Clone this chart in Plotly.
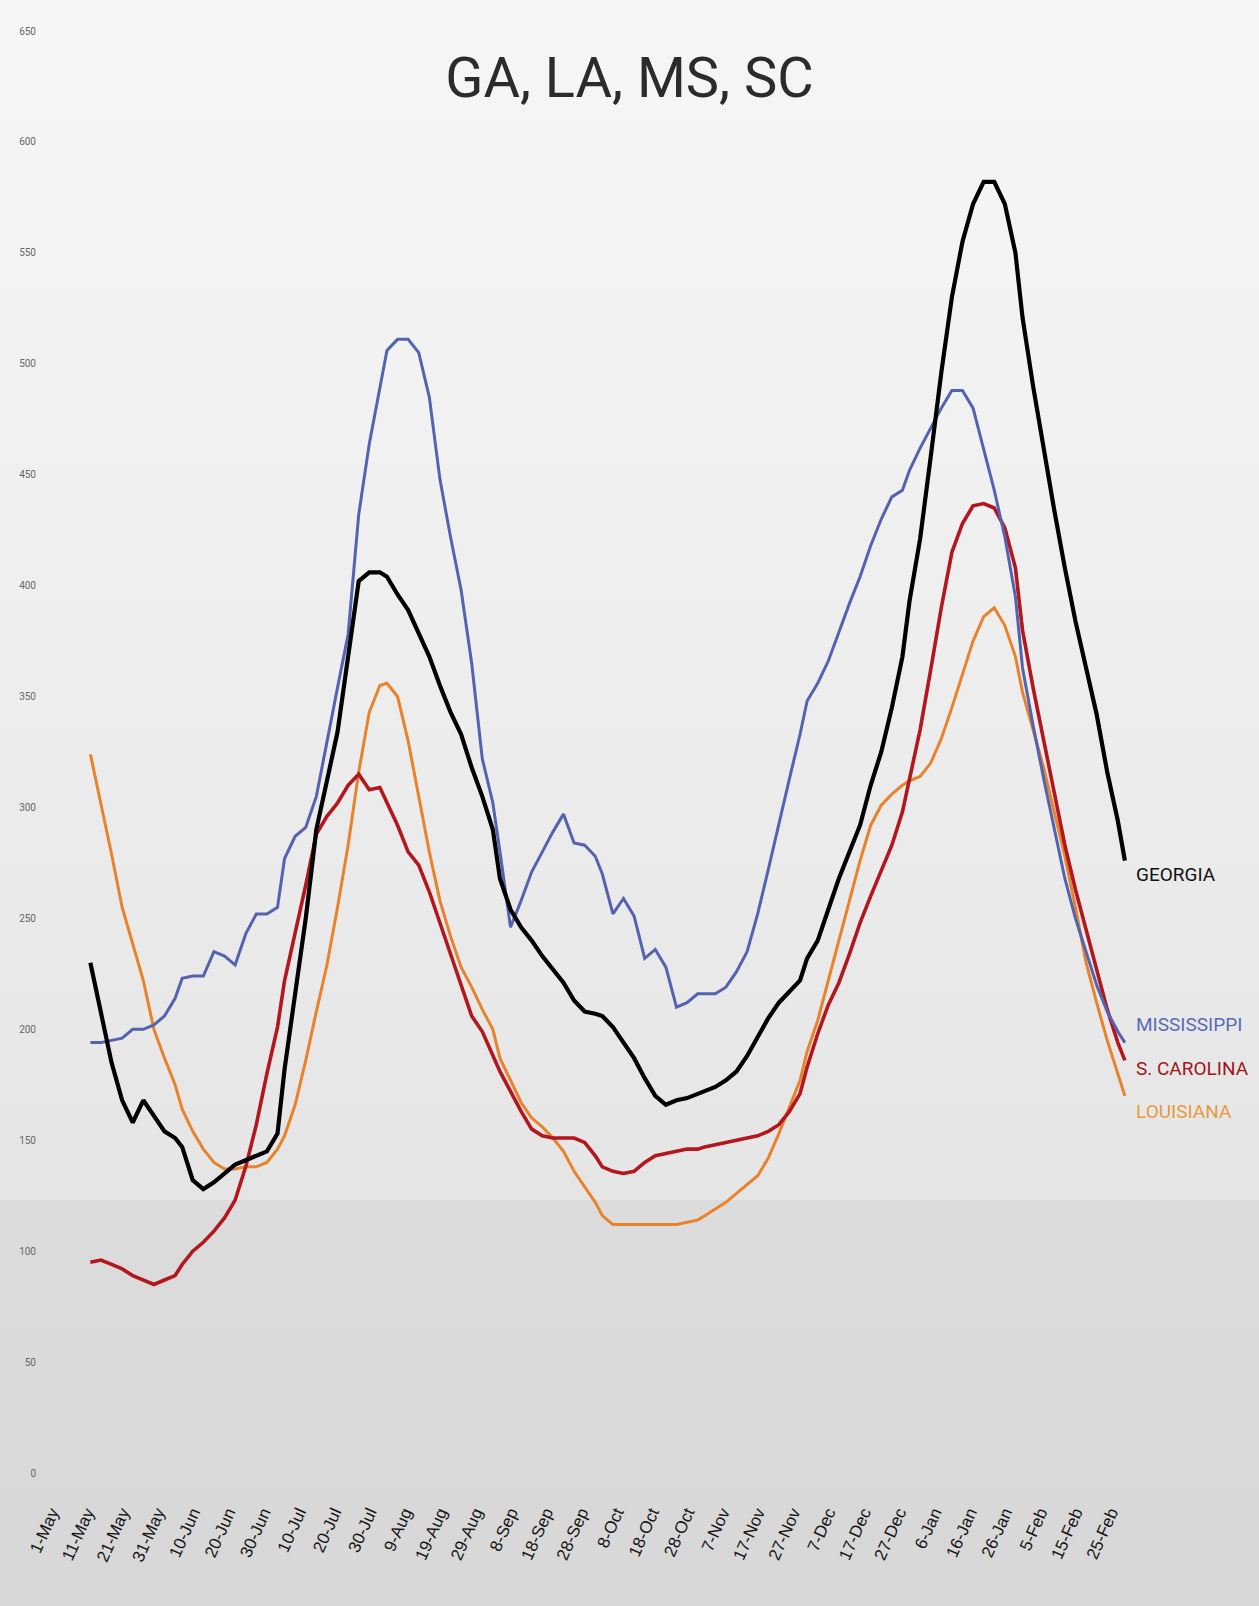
import pandas as pd
import plotly.graph_objects as go

# ---------------- data ----------------
BASE_DATE = "2020-05-01"
# day offsets from BASE_DATE for the sampled points
DAYS = [11, 14, 17, 20, 23, 26, 29, 32, 35, 37,
        40, 43, 46, 49, 52, 55, 58, 61, 64, 66,
        69, 72, 75, 78, 81, 84, 87, 90, 93, 95,
        98, 101, 104, 107, 110, 113, 116, 119, 122, 125,
        127, 130, 133, 136, 139, 142, 145, 148, 151, 154,
        156, 159, 162, 165, 168, 171, 174, 177, 180, 183,
        185, 188, 191, 194, 197, 200, 203, 206, 209, 212,
        214, 217, 220, 223, 226, 229, 232, 235, 238, 241,
        243, 246, 249, 252, 255, 258, 261, 264, 267, 270,
        273, 275, 278, 281, 284, 287, 290, 293, 296, 299,
        302, 304]

GEORGIA = [230, 207, 185, 168, 158, 168, 161, 154, 151, 147,
           132, 128, 131, 135, 139, 141, 143, 145, 153, 182,
           216, 250, 290, 312, 334, 368, 402, 406, 406, 404,
           396, 389, 379, 368, 355, 343, 333, 318, 305, 290,
           268, 254, 246, 240, 233, 227, 221, 213, 208, 207,
           206, 201, 194, 187, 178, 170, 166, 168, 169, 171,
           172, 174, 177, 181, 188, 197, 205, 212, 217, 222,
           232, 240, 254, 268, 280, 292, 310, 325, 345, 368,
           393, 421, 458, 496, 530, 555, 572, 582, 582, 572,
           550, 521, 490, 461, 434, 408, 384, 363, 342, 316,
           294, 276]

MISSISSIPPI = [194, 194, 195, 196, 200, 200, 202, 206, 214, 223,
               224, 224, 235, 233, 229, 243, 252, 252, 255, 277,
               287, 291, 305, 330, 354, 378, 432, 464, 490, 506,
               511, 511, 505, 485, 448, 422, 398, 365, 322, 302,
               280, 246, 258, 271, 280, 289, 297, 284, 283, 278,
               270, 252, 259, 251, 232, 236, 228, 210, 212, 216,
               216, 216, 219, 226, 235, 252, 272, 293, 313, 333,
               348, 356, 366, 379, 392, 404, 418, 430, 440, 443,
               452, 462, 471, 480, 488, 488, 480, 462, 443, 422,
               395, 363, 337, 313, 290, 268, 250, 235, 220, 208,
               199, 194]

S_CAROLINA = [95, 96, 94, 92, 89, 87, 85, 87, 89, 94,
              100, 104, 109, 115, 123, 138, 157, 180, 201, 222,
              243, 265, 288, 296, 302, 310, 315, 308, 309, 302,
              292, 280, 274, 262, 248, 233, 220, 206, 199, 188,
              181, 172, 163, 155, 152, 151, 151, 151, 149, 143,
              138, 136, 135, 136, 140, 143, 144, 145, 146, 146,
              147, 148, 149, 150, 151, 152, 154, 157, 163, 171,
              183, 198, 211, 221, 234, 248, 260, 271, 283, 298,
              313, 335, 362, 390, 415, 428, 436, 437, 435, 426,
              408, 380, 354, 330, 305, 283, 263, 245, 227, 209,
              194, 186]

LOUISIANA = [324, 302, 279, 255, 238, 222, 200, 187, 175, 164,
             154, 146, 140, 137, 137, 138, 138, 140, 146, 152,
             166, 186, 208, 229, 255, 283, 316, 343, 355, 356,
             350, 330, 305, 280, 258, 242, 228, 219, 209, 200,
             187, 177, 167, 160, 156, 151, 145, 136, 129, 122,
             116, 112, 112, 112, 112, 112, 112, 112, 113, 114,
             116, 119, 122, 126, 130, 134, 142, 153, 165, 177,
             190, 204, 222, 240, 258, 276, 292, 301, 306, 310,
             312, 314, 320, 331, 345, 360, 375, 386, 390, 382,
             368, 352, 335, 318, 298, 278, 255, 230, 212, 195,
             180, 170]

SERIES = ["GEORGIA", "MISSISSIPPI", "S. CAROLINA", "LOUISIANA"]
TICK_START, TICK_END, TICK_STEP_DAYS = "2020-05-01", "2021-02-25", 10
Y_TICKS = list(range(0, 651, 50))
TITLE = "GA, LA, MS, SC"

# ---------------- build ----------------
base = pd.Timestamp(BASE_DATE)
dates = [base + pd.Timedelta(days=d) for d in DAYS]
tick_dates = pd.date_range(TICK_START, TICK_END, freq=f"{TICK_STEP_DAYS}D")
tick_text = [f"{d.day}-{d.strftime('%b')}" for d in tick_dates]

styles = {
    "GEORGIA": dict(color="#000000", width=4.2),
    "MISSISSIPPI": dict(color="#5463b0", width=3),
    "S. CAROLINA": dict(color="#b3161d", width=3.6),
    "LOUISIANA": dict(color="#e8832b", width=3),
}
values = {"GEORGIA": GEORGIA, "MISSISSIPPI": MISSISSIPPI,
          "S. CAROLINA": S_CAROLINA, "LOUISIANA": LOUISIANA}

fig = go.Figure()
for name in ["LOUISIANA", "S. CAROLINA", "MISSISSIPPI", "GEORGIA"]:
    fig.add_trace(go.Scatter(x=dates, y=values[name], mode="lines", name=name,
                             line=dict(color=styles[name]["color"],
                                       width=styles[name]["width"], shape="linear"),
                             showlegend=False, hoverinfo="x+y+name"))

W, H = 1259, 1606
ML, MR, MT, MB = 48, 120, 31, 133
pw, ph = W - ML - MR, H - MT - MB

# background vertical gradient (styling only)
stops = [(0, 246), (500, 240), (900, 234), (1195, 229), (1205, 220), (1606, 215)]
def shade(yp):
    for (y0, c0), (y1, c1) in zip(stops[:-1], stops[1:]):
        if y0 <= yp <= y1:
            return c0 + (c1 - c0) * (yp - y0) / (y1 - y0)
    return stops[-1][1]
shapes = []
band = 10
for yp in range(0, H, band):
    c = int(round(shade(yp + band / 2)))
    shapes.append(dict(type="rect", xref="paper", yref="paper", layer="below",
                       x0=-ML / pw - 0.01, x1=(W - ML) / pw + 0.01,
                       y0=(H - MB - (yp + band)) / ph, y1=(H - MB - yp) / ph,
                       fillcolor=f"rgb({c},{c},{c})", line=dict(width=0)))

label_font = "Roboto, Liberation Sans, sans-serif"
label_pos = {"GEORGIA": 270, "MISSISSIPPI": 202, "S. CAROLINA": 182.5, "LOUISIANA": 163}
label_color = {"GEORGIA": "#111111", "MISSISSIPPI": "#5a6ab4",
               "S. CAROLINA": "#a3141c", "LOUISIANA": "#e59a40"}
annotations = []
for name in SERIES:
    annotations.append(dict(text=name, xref="paper", x=(1134 - ML) / pw, xanchor="left",
                            yref="y", y=label_pos[name], yanchor="middle",
                            showarrow=False,
                            font=dict(family=label_font, size=19, color=label_color[name])))

fig.update_layout(
    width=W, height=H,
    margin=dict(l=ML, r=MR, t=MT, b=MB, pad=0, autoexpand=False),
    paper_bgcolor="#e8e8e8",
    plot_bgcolor="rgba(0,0,0,0)",
    shapes=shapes,
    annotations=annotations,
    title=dict(text=TITLE, x=0.5, xanchor="center", y=1 - 77 / H, yanchor="middle",
               yref="container",
               font=dict(family=label_font, size=56, color="#2b2b2b")),
    xaxis=dict(type="date", range=["2020-04-30", "2021-03-05"], automargin=False,
               tickvals=list(tick_dates), ticktext=tick_text, tickangle=-66,
               ticks="outside", ticklen=22, tickcolor="rgba(0,0,0,0)",
               tickfont=dict(family="Liberation Sans, Arial, sans-serif", size=17, color="#151515"),
               showgrid=False, zeroline=False, showline=False),
    yaxis=dict(range=[0, 650], tickvals=Y_TICKS, automargin=False,
               tickfont=dict(family=label_font, size=10, color="#666666"),
               ticks="outside", ticklen=9, tickcolor="rgba(0,0,0,0)",
               showgrid=False, zeroline=False, showline=False),
    hovermode="closest",
)

fig.write_html("out.html", config={"displayModeBar": False},
               post_script="document.body.style.margin='0px';")
